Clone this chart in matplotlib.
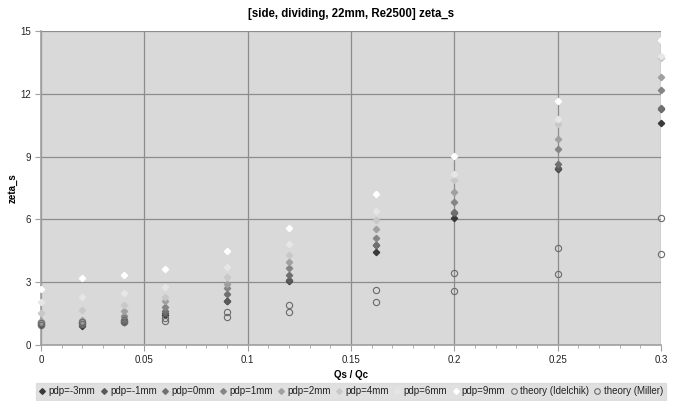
import matplotlib
matplotlib.use("Agg")
import matplotlib.pyplot as plt
from matplotlib.ticker import MultipleLocator

plt.rcParams['font.family'] = ['Liberation Sans', 'DejaVu Sans']

x = [0, 0.02, 0.04, 0.06, 0.09, 0.12, 0.162, 0.2, 0.25, 0.3]

pdp_m3 = [0.95, 0.92, 1.08, 1.45, 2.08, 3.04, 4.46, 6.08, 8.40, 10.62]
pdp_m1 = [1.00, 0.98, 1.12, 1.55, 2.12, 3.10, 4.78, 6.30, 8.45, 11.26]
pdp_0 = [1.05, 1.05, 1.20, 1.64, 2.42, 3.36, 4.80, 6.34, 8.65, 11.30]
pdp_1 = [1.10, 1.12, 1.40, 1.83, 2.71, 3.66, 5.13, 6.85, 9.38, 12.17]
pdp_2 = [1.15, 1.20, 1.64, 2.10, 2.90, 3.98, 5.54, 7.29, 9.84, 12.79]
pdp_4 = [1.51, 1.67, 1.91, 2.28, 3.26, 4.30, 5.96, 7.88, 10.54, 13.70]
pdp_6 = [2.04, 2.31, 2.50, 2.77, 3.71, 4.81, 6.40, 8.17, 10.80, 13.80]
pdp_9 = [2.67, 3.22, 3.34, 3.63, 4.49, 5.57, 7.23, 9.04, 11.66, 14.55]
theory_idelchik = [1.07, 1.10, 1.18, 1.27, 1.56, 1.93, 2.63, 3.43, 4.65, 6.07]
theory_miller = [0.95, 1.00, 1.10, 1.13, 1.35, 1.59, 2.04, 2.60, 3.41, 4.35]

series_labels = ["pdp=-3mm", "pdp=-1mm", "pdp=0mm", "pdp=1mm", "pdp=2mm",
                 "pdp=4mm", "pdp=6mm", "pdp=9mm"]
series_values = [pdp_m3, pdp_m1, pdp_0, pdp_1, pdp_2, pdp_4, pdp_6, pdp_9]
series_colors = ["#3a3a3a", "#5a5a5a", "#707070", "#858585", "#a0a0a0",
                 "#c8c8c8", "#e6e6e6", "#ffffff"]

fig = plt.figure(figsize=(6.76, 4.01), dpi=100)
ax = fig.add_axes([41/676, 1-345/401, (661-41)/676, (345-31)/401])
ax.set_facecolor("#d9d9d9")

for lab, vals, col in zip(series_labels, series_values, series_colors):
    ax.plot(x, vals, linestyle="none", marker="D", markersize=3.2,
            color=col, markeredgecolor=col, label=lab, clip_on=False, zorder=3)

ax.plot(x, theory_idelchik, linestyle="none", marker="o", markersize=4.5,
        markerfacecolor="none", markeredgecolor="#6a6a6a", markeredgewidth=0.8,
        label="theory (Idelchik)", clip_on=False, zorder=3)
ax.plot(x, theory_miller, linestyle="none", marker="o", markersize=4.5,
        markerfacecolor="none", markeredgecolor="#6a6a6a", markeredgewidth=0.8,
        label="theory (Miller)", clip_on=False, zorder=3)

ax.set_xlim(0, 0.3)
ax.set_ylim(0, 15)
ax.xaxis.set_minor_locator(MultipleLocator(0.01))
ax.yaxis.set_major_locator(MultipleLocator(3))
ax.set_xticks([0, 0.05, 0.1, 0.15, 0.2, 0.25, 0.3])
ax.set_xticklabels(["0", "0.05", "0.1", "0.15", "0.2", "0.25", "0.3"])
ax.grid(True, which="major", color="#8c8c8c", linewidth=0.9)
ax.set_axisbelow(True)
for s in ["top", "right"]:
    ax.spines[s].set_visible(False)
for s in ["left", "bottom"]:
    ax.spines[s].set_color("#a0a0a0")
    ax.spines[s].set_linewidth(1.2)
ax.tick_params(axis="both", which="both", colors="#a0a0a0", labelcolor="#222222",
               labelsize=7, direction="out")
ax.tick_params(axis="x", which="major", length=4, pad=3)
ax.tick_params(axis="x", which="minor", length=2.5)
ax.tick_params(axis="y", which="major", length=4, pad=3)

ax.set_title("[side, dividing, 22mm, Re2500] zeta_s", fontsize=8.3,
             fontweight="bold", pad=10, x=0.5)
ax.set_xlabel("Qs / Qc", fontsize=7, fontweight="bold", labelpad=4)
ax.set_ylabel("zeta_s", fontsize=7, fontweight="bold", labelpad=2)

leg = fig.legend(loc="upper left", bbox_to_anchor=(36/676, 1-383/401), ncol=10,
                 fontsize=7, frameon=True, fancybox=False, handlelength=0.6,
                 handletextpad=0.35, columnspacing=0.55, borderpad=0.35,
                 borderaxespad=0, markerscale=0.9)
leg.get_frame().set_facecolor("#d9d9d9")
leg.get_frame().set_edgecolor("#d9d9d9")
for t in leg.get_texts():
    t.set_color("#222222")

fig.savefig("out.png", dpi=100)
